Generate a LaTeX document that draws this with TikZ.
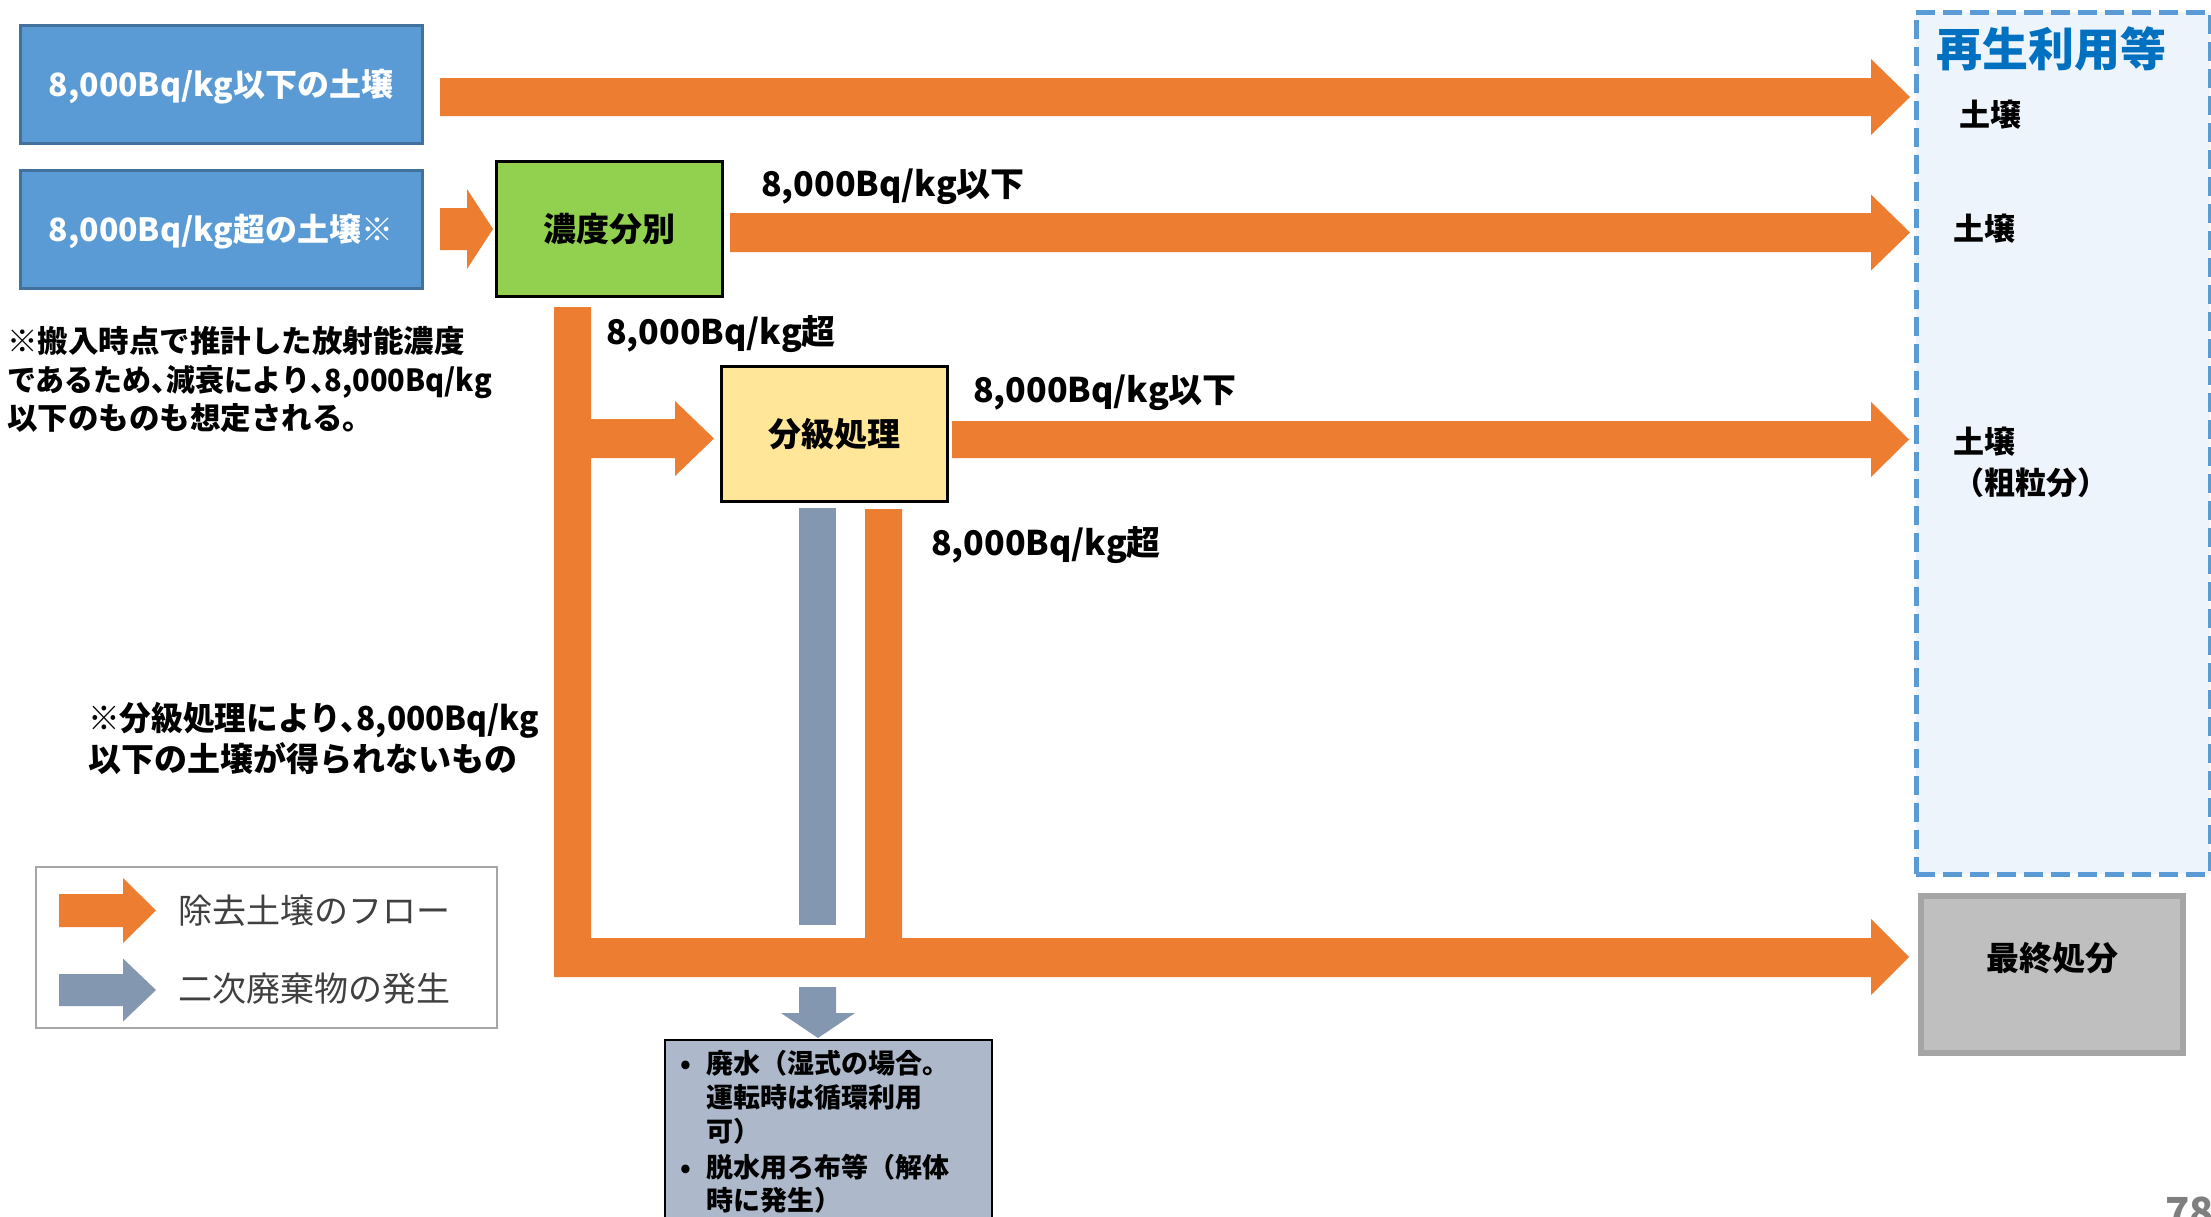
\documentclass[tikz,border=0pt]{standalone}
\usepackage{fontspec}
\setmainfont{Noto Sans CJK JP}
\usetikzlibrary{calc}
\definecolor{flow}{HTML}{ED7D31}
\definecolor{wastec}{HTML}{8497B0}
\definecolor{boxblue}{HTML}{5B9BD5}
\definecolor{boxblueline}{HTML}{41719C}
\definecolor{sortgreen}{HTML}{92D050}
\definecolor{sortyellow}{HTML}{FFE699}
\definecolor{wastefill}{HTML}{ADB9CA}
\definecolor{reusefill}{HTML}{EDF4FB}
\definecolor{reuseline}{HTML}{5B9BD5}
\definecolor{titleblue}{HTML}{0070C0}
\definecolor{finalfill}{HTML}{BFBFBF}
\definecolor{finalline}{HTML}{A5A5A5}
\definecolor{legendline}{HTML}{A6A6A6}
\definecolor{legendtext}{HTML}{404040}
\definecolor{pagegray}{HTML}{7F7F7F}
\newcommand{\hcomma}{\makebox[0.5em][l]{、}}
\newcommand{\harrow}[7]{%
  \fill[#1] (#2,#5-#6) -- (#3,#5-#6) -- (#3,#5-#7) -- (#4,#5) -- (#3,#5+#7) -- (#3,#5+#6) -- (#2,#5+#6) -- cycle;}
\tikzset{
  txt/.style={inner sep=0pt, outer sep=0pt, font=\bfseries\fontsize{#1}{#1}\selectfont},
  txtl/.style={inner sep=0pt, outer sep=0pt, font=\fontsize{#1}{#1}\selectfont},
  srcbox/.style={draw=boxblueline, line width=3pt, fill=boxblue, text=white, inner sep=0pt,
     minimum width=402pt, minimum height=118pt, text height=28pt, text depth=4pt,
     font=\bfseries\fontsize{32}{32}\selectfont},
  procbox/.style={draw=black, line width=3.5pt, inner sep=0pt, minimum width=226pt, minimum height=135pt,
     text height=29pt, text depth=4pt, font=\bfseries\fontsize{33}{33}\selectfont},
}
\begin{document}
\begin{tikzpicture}[x=1pt,y=-1pt]
\useasboundingbox (0,0) rectangle (2211,1216);
\fill[white] (0,0) rectangle (2211,1216);

% reuse region
\node[draw=reuseline, fill=reusefill, line width=5pt, dash pattern=on 19pt off 8pt,
      minimum width=294pt, minimum height=862pt, inner sep=0pt] (reuse) at (2063,443) {};
\node[txt=46, text=titleblue, anchor=base west] (reusetitle) at (1936,66.5) {再生利用等};
\node[txt=31, anchor=base west] (soil1) at (1959,126) {土壌};
\node[txt=31, anchor=base west] (soil2) at (1953,240) {土壌};
\node[txt=31, anchor=base west] (soil3) at (1953,453) {土壌};
\node[txt=31, anchor=base west] (soil3b) at (1953,494) {（粗粒分）};

% source boxes
\node[srcbox] (src1) at (221,84.5) {8,000Bq/kg以下の土壌};
\node[srcbox] (src2) at (221,229.5) {8,000Bq/kg超の土壌※};

% process boxes
\node[procbox, fill=sortgreen] (conc) at (609.5,229) {濃度分別};
\node[procbox, fill=sortyellow] (grade) at (834.5,434) {分級処理};

% final disposal
\node[draw=finalline, fill=finalfill, line width=6pt, minimum width=262pt, minimum height=157pt, inner sep=0pt] (final) at (2052,974.5) {};
\node[txt=33, anchor=base] (finaltxt) at (2052,970) {最終処分};

% flows
\harrow{flow}{440}{1871}{1910}{97}{19}{38}
\harrow{flow}{440}{467}{493}{229}{21}{40}
\harrow{flow}{730}{1871}{1910}{232.5}{19.5}{38}
\harrow{flow}{952}{1871}{1909}{439.5}{18.5}{37.5}
\fill[flow] (554,307) -- (591,307) -- (591,419) -- (675,419) -- (675,401) -- (714,438.5) -- (675,476) -- (675,458)
  -- (591,458) -- (591,938) -- (865,938) -- (865,509) -- (902,509) -- (902,938) -- (1871,938) -- (1871,919)
  -- (1909,957) -- (1871,995) -- (1871,977) -- (554,977) -- cycle;

% secondary waste
\fill[wastec] (799,508) rectangle (836,925);
\fill[wastec] (799,987) -- (836,987) -- (836,1013) -- (855,1013) -- (818,1038) -- (781,1013) -- (799,1013) -- cycle;
\node[draw=black, fill=wastefill, line width=2.5pt, minimum width=327pt, minimum height=200pt, inner sep=0pt] (waste) at (828.5,1140) {};
\node[txt=27, anchor=base west] (wb1) at (680,1073) {•};
\node[txt=27, anchor=base west] (w1) at (706,1073) {廃水（湿式の場合。};
\node[txt=27, anchor=base west] (w2) at (706,1107) {運転時は循環利用};
\node[txt=27, anchor=base west] (w3) at (706,1141) {可）};
\node[txt=27, anchor=base west] (wb2) at (680,1177) {•};
\node[txt=27, anchor=base west] (w4) at (706,1177) {脱水用ろ布等（解体};
\node[txt=27, anchor=base west] (w5) at (706,1210) {時に発生）};

% flow labels
\node[txt=34, anchor=base west] (l1) at (761,196) {8,000Bq/kg以下};
\node[txt=34, anchor=base west] (l2) at (606,344) {8,000Bq/kg超};
\node[txt=34, anchor=base west] (l3) at (973,402) {8,000Bq/kg以下};
\node[txt=34, anchor=base west] (l4) at (931,555) {8,000Bq/kg超};

% notes
\node[txt=30.5, anchor=base west] (n1a) at (7,352) {※搬入時点で推計した放射能濃度};
\node[txt=30.5, anchor=base west] (n1b) at (7,391) {\scalebox{0.95}[1]{であるため\hcomma 減衰により\hcomma 8,000Bq/kg}};
\node[txt=30.5, anchor=base west] (n1c) at (7,429) {以下のものも想定される。};
\node[txt=33, anchor=base west] (n2a) at (88,730) {\scalebox{0.96}[1]{※分級処理により\hcomma 8,000Bq/kg}};
\node[txt=33, anchor=base west] (n2b) at (88,771) {以下の土壌が得られないもの};

% legend
\node[draw=legendline, line width=2pt, fill=white, minimum width=461pt, minimum height=161pt, inner sep=0pt] (legend) at (266.5,947.5) {};
\harrow{flow}{59}{123}{156}{910.5}{16.5}{32.5}
\harrow{wastec}{59}{123}{156}{990}{16}{31.5}
\node[txtl=34, text=legendtext, anchor=base west] (leg1) at (178,923) {除去土壌のフロー};
\node[txtl=34, text=legendtext, anchor=base west] (leg2) at (178,1001) {二次廃棄物の発生};

% page number
\node[txt=40, text=pagegray, anchor=base west] (page) at (2165,1226) {78};
\end{tikzpicture}
\end{document}
